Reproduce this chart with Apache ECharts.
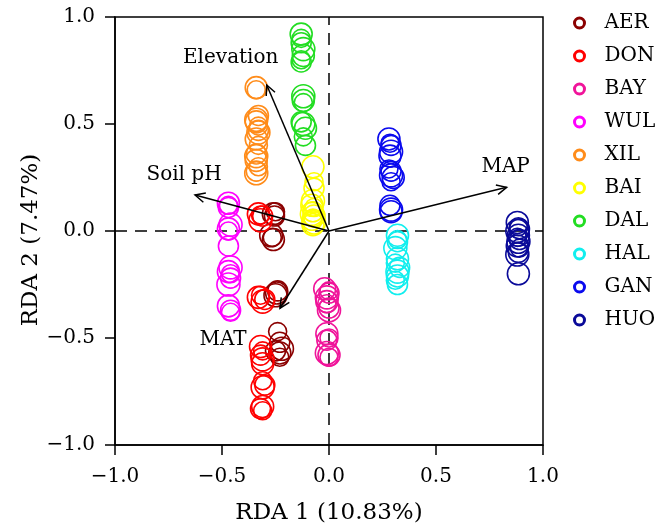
<!DOCTYPE html>
<html><head><meta charset="utf-8">
<script src="https://cdn.jsdelivr.net/npm/echarts@6/dist/echarts.min.js"></script>
<style>html,body{margin:0;padding:0;background:#fff}#c{width:662px;height:529px}</style>
</head><body><div id="c"></div>
<script>
// ---- data ----
const categories = ['AER','DON','BAY','WUL','XIL','BAI','DAL','HAL','GAN','HUO'];
const AER = [[-0.26,0.08],[-0.25,0.09],[-0.255,0.07],[-0.27,-0.02],[-0.26,-0.04],[-0.265,-0.03],[-0.24,-0.28],[-0.25,-0.30],[-0.245,-0.29],[-0.24,-0.47],[-0.23,-0.52],[-0.22,-0.55],[-0.23,-0.57],[-0.23,-0.59],[-0.25,-0.56]];
const DON = [[-0.33,0.08],[-0.32,0.075],[-0.31,0.07],[-0.32,0.05],[-0.33,-0.31],[-0.32,-0.30],[-0.30,-0.32],[-0.31,-0.33],[-0.32,-0.54],[-0.31,-0.56],[-0.32,-0.58],[-0.31,-0.60],[-0.31,-0.62],[-0.31,-0.70],[-0.30,-0.72],[-0.31,-0.73],[-0.31,-0.82],[-0.31,-0.84],[-0.32,-0.83]];
const BAY = [[-0.02,-0.27],[0.0,-0.28],[0.0,-0.29],[-0.01,-0.31],[-0.01,-0.33],[-0.01,-0.34],[0.0,-0.36],[0.0,-0.37],[-0.01,-0.48],[0.0,-0.50],[-0.01,-0.51],[-0.01,-0.57],[0.0,-0.58],[0.0,-0.59]];
const WUL = [[-0.47,0.13],[-0.47,0.12],[-0.47,0.11],[-0.46,0.03],[-0.47,0.01],[-0.47,0.00],[-0.47,-0.07],[-0.46,-0.17],[-0.47,-0.19],[-0.46,-0.20],[-0.46,-0.22],[-0.47,-0.25],[-0.47,-0.35],[-0.46,-0.38],[-0.46,-0.37]];
const XIL = [[-0.34,0.67],[-0.34,0.66],[-0.33,0.54],[-0.34,0.52],[-0.34,0.51],[-0.33,0.49],[-0.33,0.47],[-0.33,0.46],[-0.34,0.43],[-0.33,0.40],[-0.34,0.36],[-0.34,0.35],[-0.34,0.33],[-0.33,0.30],[-0.34,0.28],[-0.34,0.27]];
const BAI = [[-0.075,0.30],[-0.07,0.23],[-0.07,0.20],[-0.075,0.14],[-0.08,0.12],[-0.07,0.11],[-0.075,0.09],[-0.08,0.08],[-0.07,0.07],[-0.075,0.06],[-0.08,0.05],[-0.07,0.04],[-0.075,0.03]];
const DAL = [[-0.13,0.92],[-0.13,0.90],[-0.13,0.88],[-0.12,0.85],[-0.12,0.82],[-0.13,0.80],[-0.13,0.79],[-0.12,0.63],[-0.12,0.61],[-0.12,0.60],[-0.13,0.51],[-0.12,0.50],[-0.11,0.48],[-0.12,0.44],[-0.11,0.40]];
const HAL = [[0.32,-0.02],[0.32,-0.04],[0.32,-0.05],[0.31,-0.08],[0.32,-0.13],[0.31,-0.15],[0.33,-0.17],[0.32,-0.19],[0.32,-0.21],[0.31,-0.23],[0.32,-0.25]];
const GAN = [[0.28,0.43],[0.285,0.41],[0.29,0.40],[0.29,0.37],[0.285,0.35],[0.28,0.29],[0.29,0.28],[0.29,0.26],[0.30,0.25],[0.29,0.23],[0.285,0.12],[0.29,0.10],[0.29,0.09]];
const HUO = [[0.88,0.04],[0.885,0.02],[0.89,0.01],[0.88,0.0],[0.885,-0.02],[0.88,-0.03],[0.89,-0.04],[0.885,-0.05],[0.88,-0.07],[0.89,-0.08],[0.885,-0.10],[0.88,-0.11],[0.885,-0.20]];
const groups = [AER,DON,BAY,WUL,XIL,BAI,DAL,HAL,GAN,HUO];
const arrowNames = ['Elevation','Soil pH','MAT','MAP'];
const arrowX = [-0.291,-0.626,-0.229,0.83];
const arrowY = [0.682,0.168,-0.361,0.204];
const axisTicks = [-1.0,-0.5,0.0,0.5,1.0];

// ---- style ----
const colors = ['#8B0000','#FF0000','#F0149A','#FF00FF','#FF8C1A','#FFFF00','#22DD22','#11EEEE','#0A0AEE','#0A0A99'];
const labelOffsets = [[-36,-27],[-11,-20],[-57,32],[-1,-21]];
const FONT = 'DejaVu Serif';
const ringSizes = [22,18,20,23];

const fmt = v => (v < 0 ? '\u2212' : '') + Math.abs(v).toFixed(1);

const series = groups.map((g,i) => ({
  name: categories[i], type: 'scatter', data: g, symbol: 'circle',
  symbolSize: (val, p) => ringSizes[p.dataIndex % ringSizes.length],
  itemStyle: {color: 'rgba(0,0,0,0)', borderColor: colors[i], borderWidth: 1.6, opacity: 1},
  z: 3
}));
series[0].markLine = {
  silent: true, symbol: 'none', animation: false,
  label: {show: false},
  lineStyle: {color: '#000', width: 1.5, type: [12, 8]},
  data: [{xAxis: 0}, {yAxis: 0}], z: 1
};
series.push({
  type: 'custom', z: 10, silent: true,
  data: arrowX.map((x,i) => [x, arrowY[i]]),
  renderItem: (params, api) => {
    const i = params.dataIndex;
    const o = api.coord([0,0]);
    const t = api.coord([api.value(0), api.value(1)]);
    const ang = Math.atan2(t[1]-o[1], t[0]-o[0]);
    const L = 11, a = 0.45;
    const p1 = [t[0]-L*Math.cos(ang-a), t[1]-L*Math.sin(ang-a)];
    const p2 = [t[0]-L*Math.cos(ang+a), t[1]-L*Math.sin(ang+a)];
    return {type:'group', children:[
      {type:'line', shape:{x1:o[0],y1:o[1],x2:t[0],y2:t[1]}, style:{stroke:'#000',lineWidth:1.5}},
      {type:'polyline', shape:{points:[p1,t,p2]}, style:{stroke:'#000',lineWidth:1.5,fill:null}},
      {type:'text', x:t[0]+labelOffsets[i][0], y:t[1]+labelOffsets[i][1],
       style:{text:arrowNames[i], font:'20px "' + FONT + '"', fill:'#000', align:'center', verticalAlign:'middle'}}
    ]};
  }
});

const axisCommon = {
  type: 'value', min: axisTicks[0], max: axisTicks[axisTicks.length-1], interval: 0.5,
  splitLine: {show: false},
  axisLine: {show: true, onZero: false, lineStyle: {color: '#000', width: 1.5}},
  axisTick: {show: true, inside: false, length: 10, lineStyle: {color: '#000', width: 1.5}},
  axisLabel: {color: '#000', fontFamily: FONT, fontSize: 20, formatter: fmt},
  nameLocation: 'middle', nameMoveOverlap: false,
  nameTextStyle: {color: '#000', fontFamily: FONT, fontSize: 23}
};

const chart = echarts.init(document.getElementById('c'), null, {renderer: 'canvas'});
chart.setOption({
  animation: false,
  backgroundColor: '#fff',
  grid: {left: 115, right: 119, top: 17, bottom: 84, show: true, borderColor: '#000', borderWidth: 1.5,
         backgroundColor: 'transparent', containLabel: false, outerBoundsMode: 'none'},
  xAxis: Object.assign({}, axisCommon, {
    name: 'RDA 1 (10.83%)', nameGap: 57,
    axisLabel: Object.assign({}, axisCommon.axisLabel, {margin: 22})
  }),
  yAxis: Object.assign({}, axisCommon, {
    name: 'RDA 2 (7.47%)', nameGap: 72,
    nameTextStyle: Object.assign({}, axisCommon.nameTextStyle, {padding: [0, 18, 0, 0]}),
    axisLabel: Object.assign({}, axisCommon.axisLabel, {margin: 20})
  }),
  legend: {
    orient: 'vertical', left: 568, top: 8, itemWidth: 10, itemHeight: 10, itemGap: 13,
    textStyle: {color: '#000', fontFamily: FONT, fontSize: 20, lineHeight: 20, padding: [0,0,0,15]},
    data: categories.map((c,i) => ({name: c, icon: 'circle',
      itemStyle: {color: 'rgba(0,0,0,0)', borderColor: colors[i], borderWidth: 3}}))
  },
  series: series
});
</script></body></html>
